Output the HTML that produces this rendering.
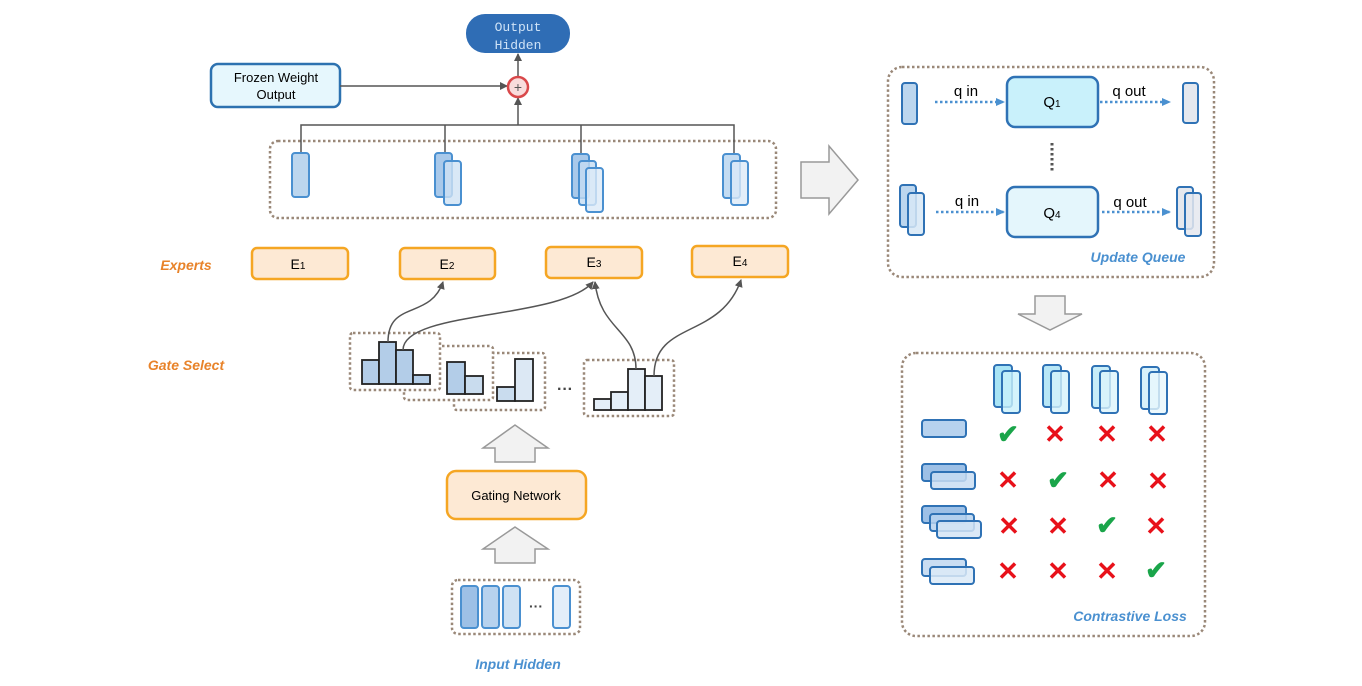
<!DOCTYPE html>
<html><head><meta charset="utf-8"><style>
html,body{margin:0;padding:0;background:#fff;}
svg{display:block;}
text{font-family:"Liberation Sans",sans-serif;}
</style></head><body>
<svg width="1362" height="686" viewBox="0 0 1362 686" xmlns="http://www.w3.org/2000/svg">
<defs>
<marker id="ah" markerWidth="8" markerHeight="8" refX="7" refY="4" orient="auto" markerUnits="userSpaceOnUse"><path d="M0,0 L8,4 L0,8 z" fill="#555"/></marker>
<marker id="bh" markerWidth="9" markerHeight="8" refX="8" refY="4" orient="auto" markerUnits="userSpaceOnUse"><path d="M0,0 L9,4 L0,8 z" fill="#4a90d0"/></marker>
</defs>
<g fill="none" stroke="#9a8878" stroke-width="2.5" stroke-dasharray="2.5 2.5">
<rect x="270" y="141" width="506" height="77" rx="8" fill="#fff"/>
<rect x="888" y="67" width="326" height="210" rx="14" fill="#fff"/>
<rect x="902" y="353" width="303" height="283" rx="14" fill="#fff"/>
<rect x="452" y="580" width="128" height="54" rx="6" fill="#fff"/>
</g>
<!-- Output Hidden -->
<rect x="466" y="14" width="104" height="39" rx="19" fill="#2f6db5"/>
<text x="518" y="31" text-anchor="middle" font-size="13" fill="#cfe3f7" style="font-family:'Liberation Mono',monospace">Output</text>
<text x="518" y="49" text-anchor="middle" font-size="13" fill="#cfe3f7" style="font-family:'Liberation Mono',monospace">Hidden</text>
<rect x="211" y="64" width="129" height="43" rx="7" fill="#e6f7fd" stroke="#2d72b0" stroke-width="2.5"/>
<text x="276" y="82" text-anchor="middle" font-size="13">Frozen Weight</text>
<text x="276" y="99" text-anchor="middle" font-size="13">Output</text>
<g stroke="#555" stroke-width="1.5" fill="none">
<line x1="340" y1="86" x2="507" y2="86" marker-end="url(#ah)"/>
<line x1="518" y1="77" x2="518" y2="54" marker-end="url(#ah)"/>
<line x1="518" y1="125" x2="518" y2="98" marker-end="url(#ah)"/>
<polyline points="301,155 301,125 734,125 734,155"/>
<line x1="445" y1="125" x2="445" y2="155"/>
<line x1="581" y1="125" x2="581" y2="155"/>
</g>
<circle cx="518" cy="87" r="10" fill="#f9dcdc" stroke="#d9484a" stroke-width="2.5"/>
<text x="518" y="92" text-anchor="middle" font-size="14" fill="#555">+</text>
<g stroke="#4a90d0" stroke-width="2">
<rect x="292" y="153" width="17" height="44" rx="3" fill="#bcd6ee"/>
<rect x="435" y="153" width="17" height="44" rx="3" fill="#a9c9ea"/>
<rect x="444" y="161" width="17" height="44" rx="3" fill="#cfe2f4" fill-opacity="0.8"/>
<rect x="572" y="154" width="17" height="44" rx="3" fill="#a9c9ea"/>
<rect x="579" y="161" width="17" height="44" rx="3" fill="#c4dcf2" fill-opacity="0.8"/>
<rect x="586" y="168" width="17" height="44" rx="3" fill="#dceaf7" fill-opacity="0.8"/>
<rect x="723" y="154" width="17" height="44" rx="3" fill="#c4dcf2"/>
<rect x="731" y="161" width="17" height="44" rx="3" fill="#dceaf7" fill-opacity="0.8"/>
</g>
<!-- big right arrow -->
<polygon points="801,162 829,162 829,146 858,180 829,214 829,198 801,198" fill="#f2f2f2" stroke="#999" stroke-width="1.5"/>
<!-- Experts -->
<text x="186" y="270" text-anchor="middle" font-size="14" font-weight="bold" font-style="italic" fill="#e8832a">Experts</text>
<g fill="#fde9d4" stroke="#f5a623" stroke-width="2.5">
<rect x="252" y="248" width="96" height="31" rx="5"/>
<rect x="400" y="248" width="95" height="31" rx="5"/>
<rect x="546" y="247" width="96" height="31" rx="5"/>
<rect x="692" y="246" width="96" height="31" rx="5"/>
</g>
<g font-size="14" text-anchor="middle">
<text x="298" y="269">E<tspan font-size="10">1</tspan></text>
<text x="447" y="269">E<tspan font-size="10">2</tspan></text>
<text x="594" y="267">E<tspan font-size="10">3</tspan></text>
<text x="740" y="266">E<tspan font-size="10">4</tspan></text>
</g>
<text x="186" y="370" text-anchor="middle" font-size="14" font-weight="bold" font-style="italic" fill="#e8832a">Gate Select</text>
<!-- histograms -->
<g stroke="#9a8878" stroke-width="2.5" stroke-dasharray="2.5 2.5" fill="#fff">
<rect x="454" y="353" width="91" height="57" rx="3"/>
</g>
<g stroke="#222" stroke-width="1.8">
<rect x="497" y="387" width="18" height="14" fill="#c9dcee"/>
<rect x="515" y="359" width="18" height="42" fill="#dce8f4"/>
</g>
<rect x="404" y="346" width="89" height="54" rx="3" fill="#fff" stroke="#9a8878" stroke-width="2.5" stroke-dasharray="2.5 2.5"/>
<g stroke="#222" stroke-width="1.8">
<rect x="447" y="362" width="18" height="32" fill="#b3cde8"/>
<rect x="465" y="376" width="18" height="18" fill="#c9dcee"/>
</g>
<rect x="350" y="333" width="90" height="57" rx="3" fill="#fff" stroke="#9a8878" stroke-width="2.5" stroke-dasharray="2.5 2.5"/>
<g stroke="#222" stroke-width="1.8" fill="#b3cde8">
<rect x="362" y="360" width="17" height="24"/>
<rect x="379" y="342" width="17" height="42"/>
<rect x="396" y="350" width="17" height="34"/>
<rect x="413" y="375" width="17" height="9"/>
</g>
<text x="565" y="394" text-anchor="middle" font-size="16" font-weight="bold" fill="#444">···</text>
<rect x="584" y="360" width="90" height="56" rx="3" fill="#fff" stroke="#9a8878" stroke-width="2.5" stroke-dasharray="2.5 2.5"/>
<g stroke="#222" stroke-width="1.8" fill="#e4eef8">
<rect x="594" y="399" width="17" height="11"/>
<rect x="611" y="392" width="17" height="18"/>
<rect x="628" y="369" width="17" height="41"/>
<rect x="645" y="376" width="17" height="34"/>
</g>
<g stroke="#555" stroke-width="1.5" fill="none">
<path d="M388,342 C388,300 430,320 443,282" marker-end="url(#ah)"/>
<path d="M403,350 C403,310 560,320 593,282" marker-end="url(#ah)"/>
<path d="M636,369 C636,330 600,330 595,282" marker-end="url(#ah)"/>
<path d="M654,376 C654,320 720,340 741,280" marker-end="url(#ah)"/>
</g>
<!-- up arrows -->
<polygon points="495,462 535,462 535,448 548,448 515,425 483,448 495,448" fill="#f2f2f2" stroke="#999" stroke-width="1.5"/>
<polygon points="495,563 535,563 535,549 548,549 515,527 483,549 495,549" fill="#f2f2f2" stroke="#999" stroke-width="1.5"/>
<rect x="447" y="471" width="139" height="48" rx="9" fill="#fde9d4" stroke="#f5a623" stroke-width="2.5"/>
<text x="516" y="500" text-anchor="middle" font-size="13">Gating Network</text>
<g stroke="#4a90d0" stroke-width="2">
<rect x="461" y="586" width="17" height="42" rx="3" fill="#9dc0e6"/>
<rect x="482" y="586" width="17" height="42" rx="3" fill="#b7d2ee"/>
<rect x="503" y="586" width="17" height="42" rx="3" fill="#cfe2f4"/>
<rect x="553" y="586" width="17" height="42" rx="3" fill="#e3eef9"/>
</g>
<text x="536" y="611" text-anchor="middle" font-size="14" font-weight="bold" fill="#444">···</text>
<text x="518" y="669" text-anchor="middle" font-size="14" font-weight="bold" font-style="italic" fill="#4a90d0">Input Hidden</text>
<!-- Update Queue -->
<g stroke="#2f72b5" stroke-width="2">
<rect x="902" y="83" width="15" height="41" rx="3" fill="#bcd6ee"/>
<rect x="1183" y="83" width="15" height="40" rx="3" fill="#e5e8ee"/>
<rect x="900" y="185" width="16" height="42" rx="3" fill="#bcd6ee"/>
<rect x="908" y="193" width="16" height="42" rx="3" fill="#d7e7f6" fill-opacity="0.85"/>
<rect x="1177" y="187" width="16" height="42" rx="3" fill="#e5e8ee"/>
<rect x="1185" y="193" width="16" height="43" rx="3" fill="#e5e8ee" fill-opacity="0.85"/>
</g>
<rect x="1007" y="77" width="91" height="50" rx="8" fill="#c9f1fb" stroke="#2f72b5" stroke-width="2.5"/>
<rect x="1007" y="187" width="91" height="50" rx="8" fill="#e4f6fc" stroke="#2f72b5" stroke-width="2.5"/>
<text x="1052" y="107" text-anchor="middle" font-size="15">Q<tspan font-size="10">1</tspan></text>
<text x="1052" y="218" text-anchor="middle" font-size="15">Q<tspan font-size="10">4</tspan></text>
<g stroke="#4a90d0" stroke-width="2.5" stroke-dasharray="2.5 2.5" fill="none">
<line x1="935" y1="102" x2="1004" y2="102" marker-end="url(#bh)"/>
<line x1="1100" y1="102" x2="1170" y2="102" marker-end="url(#bh)"/>
<line x1="936" y1="212" x2="1004" y2="212" marker-end="url(#bh)"/>
<line x1="1102" y1="212" x2="1170" y2="212" marker-end="url(#bh)"/>
</g>
<line x1="1052" y1="143" x2="1052" y2="173" stroke="#555" stroke-width="3" stroke-dasharray="2.5 2.5"/>
<g font-size="15" text-anchor="middle">
<text x="966" y="96">q  in</text>
<text x="1129" y="96">q  out</text>
<text x="967" y="206">q  in</text>
<text x="1130" y="207">q  out</text>
</g>
<text x="1138" y="262" text-anchor="middle" font-size="14" font-weight="bold" font-style="italic" fill="#4a90d0">Update Queue</text>
<polygon points="1035,296 1065,296 1065,314 1082,314 1050,330 1018,314 1035,314" fill="#f2f2f2" stroke="#999" stroke-width="1.5"/>
<!-- Contrastive -->
<g stroke="#2f72b5" stroke-width="2">
<rect x="994" y="365" width="18" height="42" rx="3" fill="#a9e4f5"/>
<rect x="1002" y="371" width="18" height="42" rx="3" fill="#c9f1fb" fill-opacity="0.8"/>
<rect x="1043" y="365" width="18" height="42" rx="3" fill="#b8e7f6"/>
<rect x="1051" y="371" width="18" height="42" rx="3" fill="#d4f2fb" fill-opacity="0.8"/>
<rect x="1092" y="366" width="18" height="42" rx="3" fill="#c7edf8"/>
<rect x="1100" y="371" width="18" height="42" rx="3" fill="#dcf4fb" fill-opacity="0.8"/>
<rect x="1141" y="367" width="18" height="42" rx="3" fill="#d8f1fa"/>
<rect x="1149" y="372" width="18" height="42" rx="3" fill="#e9f8fc" fill-opacity="0.8"/>
<rect x="922" y="420" width="44" height="17" rx="3" fill="#b7d2ee"/>
<rect x="922" y="464" width="44" height="17" rx="3" fill="#9dc0e6"/>
<rect x="931" y="472" width="44" height="17" rx="3" fill="#c9ddf2" fill-opacity="0.85"/>
<rect x="922" y="506" width="44" height="17" rx="3" fill="#9dc0e6"/>
<rect x="930" y="514" width="44" height="17" rx="3" fill="#b7d2ee" fill-opacity="0.85"/>
<rect x="937" y="521" width="44" height="17" rx="3" fill="#d3e4f5" fill-opacity="0.85"/>
<rect x="922" y="559" width="44" height="17" rx="3" fill="#c9ddf2"/>
<rect x="930" y="567" width="44" height="17" rx="3" fill="#dceaf7" fill-opacity="0.85"/>
</g>
<g font-size="26" font-weight="bold" text-anchor="middle" style="font-family:'DejaVu Sans',sans-serif">
<text x="1008" y="443" fill="#1aa54a">✔</text>
<text x="1055" y="443" fill="#e8111a">✕</text>
<text x="1107" y="443" fill="#e8111a">✕</text>
<text x="1157" y="443" fill="#e8111a">✕</text>
<text x="1008" y="489" fill="#e8111a">✕</text>
<text x="1058" y="489" fill="#1aa54a">✔</text>
<text x="1108" y="489" fill="#e8111a">✕</text>
<text x="1158" y="490" fill="#e8111a">✕</text>
<text x="1009" y="535" fill="#e8111a">✕</text>
<text x="1058" y="535" fill="#e8111a">✕</text>
<text x="1107" y="534" fill="#1aa54a">✔</text>
<text x="1156" y="535" fill="#e8111a">✕</text>
<text x="1008" y="580" fill="#e8111a">✕</text>
<text x="1058" y="580" fill="#e8111a">✕</text>
<text x="1107" y="580" fill="#e8111a">✕</text>
<text x="1156" y="579" fill="#1aa54a">✔</text>
</g>
<text x="1130" y="621" text-anchor="middle" font-size="14" font-weight="bold" font-style="italic" fill="#4a90d0">Contrastive Loss</text>
</svg>
</body></html>
